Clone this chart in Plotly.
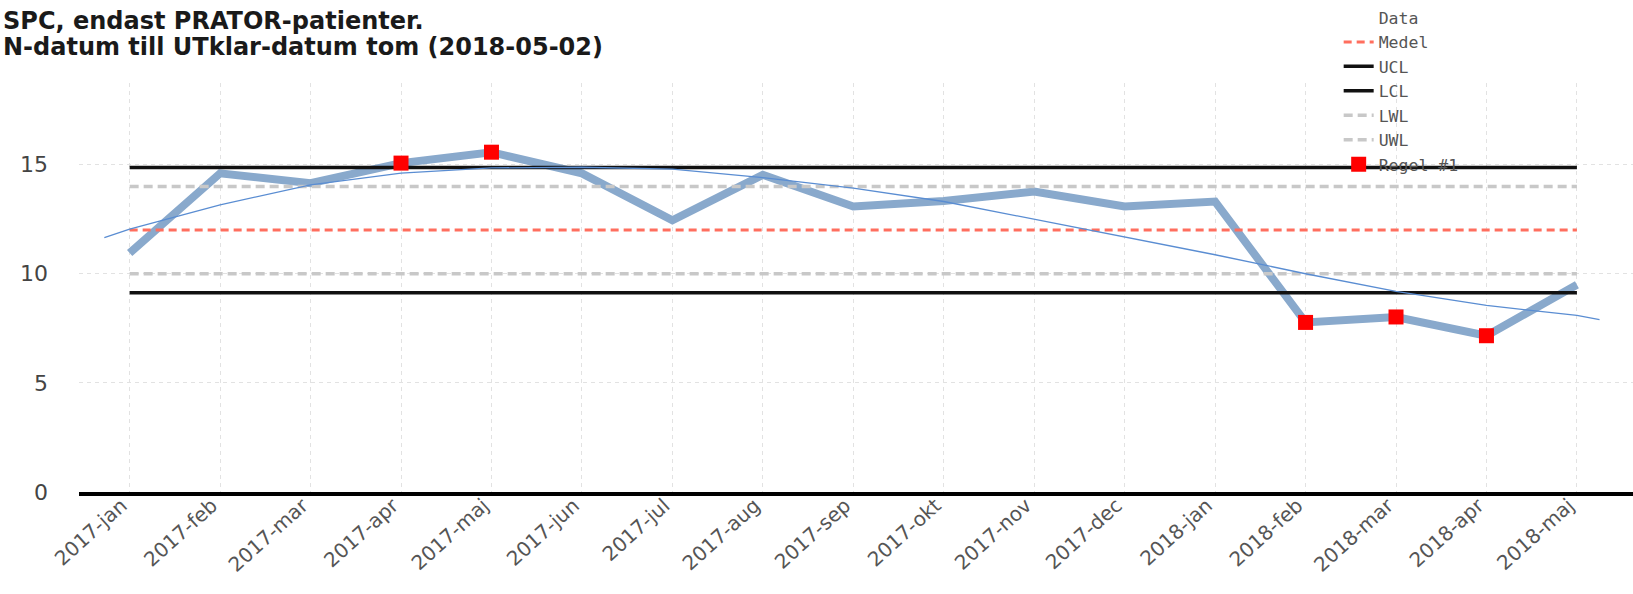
import plotly.graph_objects as go

# ---- data ----
months = ["2017-jan", "2017-feb", "2017-mar", "2017-apr", "2017-maj", "2017-jun",
          "2017-jul", "2017-aug", "2017-sep", "2017-okt", "2017-nov", "2017-dec",
          "2018-jan", "2018-feb", "2018-mar", "2018-apr", "2018-maj"]
values = [10.95, 14.6, 14.15, 15.07, 15.57, 14.6, 12.45, 14.53, 13.08, 13.33,
          13.77, 13.08, 13.31, 7.77, 8.02, 7.16, 9.5]
medel = 12.0
ucl = 14.87
lcl = 9.13
lwl = 10.0
uwl = 14.0
regel1_idx = [3, 4, 13, 14, 15]
trend_x = [-0.28, 0, 1, 2, 3, 4, 5, 6, 7, 8, 9, 10, 11, 12, 13, 14, 15, 16, 16.25]
trend_y = [11.66, 12.05, 13.16, 14.07, 14.61, 14.85, 14.88, 14.79, 14.4, 13.92,
           13.31, 12.5, 11.68, 10.87, 10.0, 9.19, 8.55, 8.09, 7.9]
yticks = [0, 5, 10, 15]
title_lines = ["SPC, endast PRATOR-patienter.",
               "N-datum till UTklar-datum tom (2018-05-02)"]

idx = list(range(len(months)))

fig = go.Figure()
# legend-only entry for Data (reference shows no symbol)
fig.add_trace(go.Scatter(x=[None], y=[None], name="Data", mode="lines",
                         line=dict(color="rgba(0,0,0,0)", width=0)))
fig.add_trace(go.Scatter(x=idx, y=values, name="Data", mode="lines", showlegend=False,
                         line=dict(color="#89a9cc", width=8)))
fig.add_trace(go.Scatter(x=idx, y=[medel] * len(idx), name="Medel", mode="lines",
                         line=dict(color="#ff6e5e", width=3, dash="8px,5px")))
fig.add_trace(go.Scatter(x=idx, y=[ucl] * len(idx), name="UCL", mode="lines",
                         line=dict(color="#111111", width=3.5)))
fig.add_trace(go.Scatter(x=idx, y=[lcl] * len(idx), name="LCL", mode="lines",
                         line=dict(color="#111111", width=3.5)))
fig.add_trace(go.Scatter(x=idx, y=[lwl] * len(idx), name="LWL", mode="lines",
                         line=dict(color="#c8c8c8", width=3.5, dash="9px,5px")))
fig.add_trace(go.Scatter(x=idx, y=[uwl] * len(idx), name="UWL", mode="lines",
                         line=dict(color="#c8c8c8", width=3.5, dash="9px,5px")))
fig.add_trace(go.Scatter(x=trend_x, y=trend_y, name="Trend", mode="lines", showlegend=False,
                         line=dict(color="#5a8dd2", width=1.3)))
fig.add_trace(go.Scatter(x=regel1_idx, y=[values[i] for i in regel1_idx], name="Regel #1",
                         mode="markers",
                         marker=dict(symbol="square", color="#ff0000", size=15)))

# title, one annotation per line
for k, line in enumerate(title_lines):
    fig.add_annotation(text=line, xref="paper", yref="paper",
                       x=-0.0502, y=1.0, yshift=83 - 5 - 26 * k,
                       xanchor="left", yanchor="top", align="left", showarrow=False,
                       font=dict(family="DejaVu Sans", size=24, color="#1a1a1a",
                                 weight="bold"))

fig.update_layout(
    width=1633, height=594,
    margin=dict(l=79, r=0, t=83, b=102, autoexpand=False),
    plot_bgcolor="white", paper_bgcolor="white",
    font=dict(family="DejaVu Sans", color="#555555"),
    legend=dict(xref="paper", yref="paper", x=0.8106, y=1.2024,
                xanchor="left", yanchor="top",
                bgcolor="rgba(0,0,0,0)", font=dict(family="DejaVu Sans Mono", size=16.5,
                                                     color="#555555")),
    xaxis=dict(range=[-0.56, 16.62], tickvals=idx, ticktext=months, tickangle=-42,
               showgrid=True, gridcolor="#e2e2e2", griddash="4px,4px", gridwidth=1,
               showline=True, linecolor="black", linewidth=4, zeroline=False,
               ticklabelstandoff=-10, ticklabelshift=-8,
               tickfont=dict(family="DejaVu Sans", size=20, color="#555555")),
    yaxis=dict(range=[0, 18.74], tickvals=yticks, showgrid=True, gridcolor="#e2e2e2",
               griddash="4px,4px", gridwidth=1, zeroline=False, ticklabelstandoff=30,
               tickfont=dict(family="DejaVu Sans", size=22, color="#444444")),
)

# remove the browser's default page margin so the figure sits at the window's corner
fig.write_html("out.html", config={"displayModeBar": False},
               post_script="document.body.style.margin='0';")
